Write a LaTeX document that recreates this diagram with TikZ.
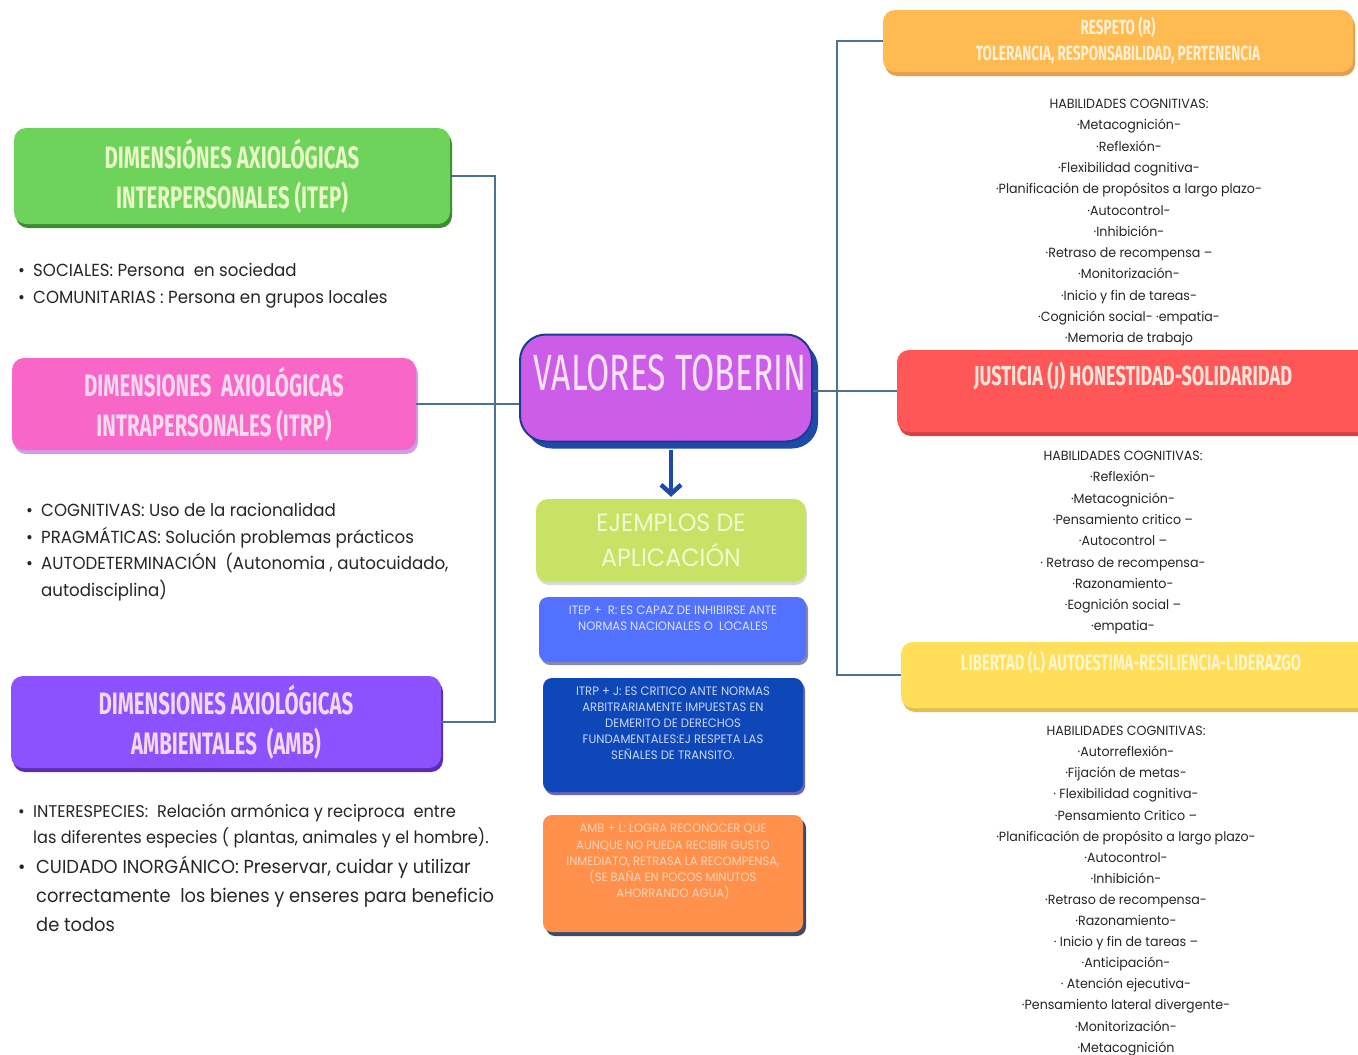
\documentclass[tikz,border=0pt]{standalone}
\usepackage{fontspec}
\usetikzlibrary{shadows,arrows.meta}
\newfontfamily\headfont[FakeStretch=0.66]{Fira Sans}
\newfontfamily\bodyfont[FakeStretch=0.95]{Poppins}
\definecolor{cGreen}{HTML}{6DD35A}\definecolor{cGreenS}{HTML}{3B8B2F}\definecolor{cGreenT}{HTML}{E9F7C9}
\definecolor{cPink}{HTML}{F866C8}\definecolor{cPinkS}{HTML}{C9A0E8}\definecolor{cPinkT}{HTML}{F7D9EE}
\definecolor{cPurp}{HTML}{8C52FF}\definecolor{cPurpS}{HTML}{5B2DB5}\definecolor{cPurpT}{HTML}{F3D8F2}
\definecolor{cMag}{HTML}{CB5DE9}\definecolor{cNavy}{HTML}{1F3A93}\definecolor{cMagS}{HTML}{1E4BA8}\definecolor{cMagT}{HTML}{FCE3F6}
\definecolor{cLime}{HTML}{C9E265}\definecolor{cLimeT}{HTML}{F4F9D2}\definecolor{cLimeS}{HTML}{DADADA}
\definecolor{cBlue}{HTML}{5271FF}\definecolor{cBlueT}{HTML}{DCE3FF}\definecolor{cBlueS}{HTML}{8A8AA8}
\definecolor{cDBlue}{HTML}{0D47B8}\definecolor{cDBlueT}{HTML}{C9D7FA}\definecolor{cDBlueS}{HTML}{6B63B5}
\definecolor{cOrng}{HTML}{FF914D}\definecolor{cOrngT}{HTML}{FFD3B3}\definecolor{cOrngS}{HTML}{3D4A6B}
\definecolor{cResp}{HTML}{FFBB52}\definecolor{cRespT}{HTML}{FFF1D6}\definecolor{cRespS}{HTML}{E0A050}
\definecolor{cJust}{HTML}{FF5757}\definecolor{cJustT}{HTML}{FCE3DA}\definecolor{cJustS}{HTML}{D24545}
\definecolor{cLib}{HTML}{FFDE59}\definecolor{cLibT}{HTML}{FFF6CF}\definecolor{cLibS}{HTML}{E0C050}
\definecolor{cConn}{HTML}{4B7391}\definecolor{cBody}{HTML}{262626}
\newcommand{\bul}[1][15pt]{\makebox[#1][l]{•}}
\begin{document}
\begin{tikzpicture}[x=1pt,y=-1pt,
  box/.style={rounded corners=12pt, inner sep=0pt},
  shd/.style={general shadow={fill=#1, shadow xshift=2pt, shadow yshift=-4pt}},
  head/.style={font=\headfont\bfseries\fontsize{31}{40}\selectfont, align=center},
  list/.style={font=\bodyfont\fontsize{13.3}{21.3}\selectfont, align=center, text=cBody, inner sep=0pt, anchor=north},
  blist/.style={font=\bodyfont\fontsize{17.5}{26.7}\selectfont, align=left, text=cBody, inner sep=0pt, anchor=north west},
  small/.style={font=\bodyfont\fontsize{12.2}{16.1}\selectfont, align=center},
  conn/.style={draw=cConn, line width=1.4pt},
  arr/.style={draw=cMagS, line width=4.5pt, -{Straight Barb[length=9pt,width=20pt]}}]
\useasboundingbox[fill=white] (0,0) rectangle (1358,1055);

% ---- left boxes
\node[box, fill=cGreen, shd=cGreenS, minimum width=436, minimum height=96, head, text=cGreenT] (itep) at (232,176) {DIMENSIÓNES AXIOLÓGICAS\\INTERPERSONALES (ITEP)};
\node[box, fill=cPink, shd=cPinkS, minimum width=404, minimum height=92, head, text=cPinkT] (itrp) at (214,404) {DIMENSIONES\ \ AXIOLÓGICAS\\INTRAPERSONALES (ITRP)};
\node[box, fill=cPurp, shd=cPurpS, minimum width=430, minimum height=92, head, text=cPurpT] (amb) at (226,722) {DIMENSIONES AXIOLÓGICAS\\AMBIENTALES\ \ (AMB)};

\node[blist] (itepL) at (18,263) {\bul SOCIALES: Persona\ \ en sociedad\\ \bul COMUNITARIAS : Persona en grupos locales};
\node[blist] (itrpL) at (26,503) {\bul COGNITIVAS: Uso de la racionalidad\\ \bul PRAGMÁTICAS: Solución problemas prácticos\\ \bul AUTODETERMINACIÓN\ \ (Autonomia , autocuidado,\\ \hspace*{15pt}autodisciplina)};
\node[blist, font=\bodyfont\fontsize{17}{26.2}\selectfont] (ambL1) at (18,804) {\bul INTERESPECIES:\ \ Relación armónica y reciproca\ \ entre\\ \hspace*{15pt}las diferentes especies ( plantas, animales y el hombre).};
\node[blist, font=\bodyfont\fontsize{18.8}{29}\selectfont] (ambL2) at (18,856) {\bul[18pt]CUIDADO INORGÁNICO: Preservar, cuidar y utilizar\\ \hspace*{18pt}correctamente\ \ los bienes y enseres para beneficio\\ \hspace*{18pt}de todos};

% ---- center
\node[box, rounded corners=26pt, fill=cMag, draw=cNavy, line width=2pt, general shadow={fill=cMagS, shadow xshift=6pt, shadow yshift=-7pt}, minimum width=292, minimum height=107] (vt) at (666,388) {};
\node[font=\headfont\fontsize{51}{51}\selectfont, text=cMagT, inner sep=0pt] (vtT) at (670,373) {VALORES TOBERIN};

\node[box, fill=cLime, general shadow={fill=cLimeS, shadow xshift=1pt, shadow yshift=-3pt}, minimum width=270, minimum height=83, font=\bodyfont\fontsize{25}{35}\selectfont, align=center, text=cLimeT] (ej) at (671,540.5) {EJEMPLOS DE\\APLICACIÓN};
\draw[arr, shorten <=7pt, shorten >=2pt] (vt.south -| ej.north) -- (ej.north);

\node[box, rounded corners=9pt, fill=cBlue, general shadow={fill=cBlueS, shadow xshift=2pt, shadow yshift=-3pt}, minimum width=267, minimum height=65] (exR) at (672.5,629.5) {};
\node[small, text=cBlueT] (exRT) at (673,618.5) {ITEP +\ \ R: ES CAPAZ DE INHIBIRSE ANTE\\NORMAS NACIONALES O\ \ LOCALES};
\node[box, rounded corners=9pt, fill=cDBlue, general shadow={fill=cDBlueS, shadow xshift=2pt, shadow yshift=-3pt}, minimum width=260, minimum height=114] (exJ) at (673,735) {};
\node[small, text=cDBlueT] (exJT) at (673,723) {ITRP + J: ES CRITICO ANTE NORMAS\\ARBITRARIAMENTE IMPUESTAS EN\\DEMERITO DE DERECHOS\\FUNDAMENTALES:EJ RESPETA LAS\\SEÑALES DE TRANSITO.};
\node[box, rounded corners=9pt, fill=cOrng, general shadow={fill=cOrngS, shadow xshift=3pt, shadow yshift=-4pt}, minimum width=260, minimum height=117] (exL) at (673,873.5) {};
\node[small, text=cOrngT] (exLT) at (673,862) {AMB + L: LOGRA RECONOCER QUE\\AUNQUE NO PUEDA RECIBIR GUSTO\\INMEDIATO, RETRASA LA RECOMPENSA,\\(SE BAÑA EN POCOS MINUTOS\\AHORRANDO AGUA)};

% ---- right boxes
\node[box, fill=cResp, shd=cRespS, minimum width=470, minimum height=62, head, font=\headfont\bfseries\fontsize{20.5}{26}\selectfont, text=cRespT] (resp) at (1118,41) {RESPETO (R)\\TOLERANCIA, RESPONSABILIDAD, PERTENENCIA};
\node[box, fill=cJust, shd=cJustS, minimum width=474, minimum height=82] (just) at (1134,391) {};
\node[head, font=\headfont\bfseries\fontsize{27.5}{28}\selectfont, text=cJustT, inner sep=0pt] (justT) at (1133,376) {JUSTICIA (J) HONESTIDAD-SOLIDARIDAD};
\node[box, fill=cLib, shd=cLibS, minimum width=470, minimum height=66] (lib) at (1136,675) {};
\node[head, font=\headfont\bfseries\fontsize{22.5}{23}\selectfont, text=cLibT, inner sep=0pt] (libT) at (1131,663) {LIBERTAD (L) AUTOESTIMA-RESILIENCIA-LIDERAZGO};

\node[list] (respL) at (1129,99) {HABILIDADES COGNITIVAS:\\·Metacognición-\\·Reflexión-\\·Flexibilidad cognitiva-\\·Planificación de propósitos a largo plazo-\\·Autocontrol-\\·Inhibición-\\·Retraso de recompensa –\\·Monitorización-\\·Inicio y fin de tareas-\\·Cognición social- ·empatia-\\·Memoria de trabajo};
\node[list] (justL) at (1123,451) {HABILIDADES COGNITIVAS:\\·Reflexión-\\·Metacognición-\\·Pensamiento critico –\\·Autocontrol –\\· Retraso de recompensa-\\·Razonamiento-\\·Eognición social –\\·empatia-};
\node[list, font=\bodyfont\fontsize{13.3}{21.1}\selectfont] (libL) at (1126,726) {HABILIDADES COGNITIVAS:\\·Autorreflexión-\\·Fijación de metas-\\· Flexibilidad cognitiva-\\·Pensamiento Critico –\\·Planificación de propósito a largo plazo-\\·Autocontrol-\\·Inhibición-\\·Retraso de recompensa-\\·Razonamiento-\\· Inicio y fin de tareas –\\·Anticipación-\\· Atención ejecutiva-\\·Pensamiento lateral divergente-\\·Monitorización-\\·Metacognición};

% ---- connectors
\coordinate (tl) at (495,0);
\coordinate (tr) at (837,0);
\draw[conn] (itep.east) -- (itep.east -| tl) -- (amb.east -| tl) -- (amb.east);
\draw[conn] (itrp.east) -- (itrp.east -| vt.west);
\draw[conn] (just.west -| vt.east) -- (just.west);
\draw[conn] (resp.west) -- (resp.west -| tr) -- (lib.west -| tr) -- (lib.west);
\end{tikzpicture}
\end{document}
